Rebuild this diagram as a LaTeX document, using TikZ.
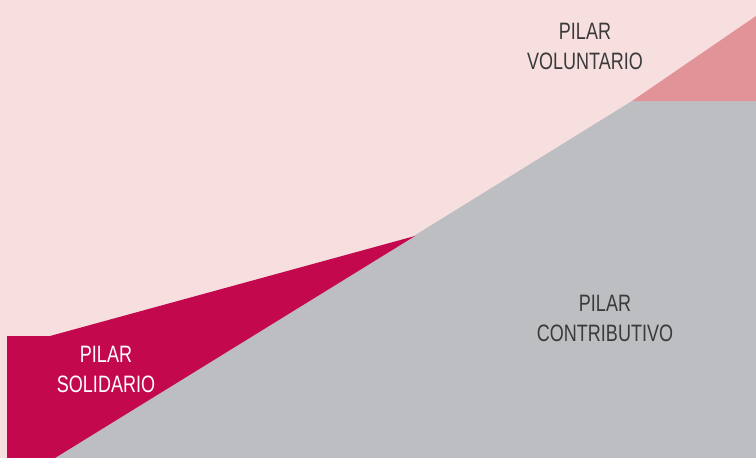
\documentclass[tikz,border=0pt]{standalone}
\usepackage{fontspec}
\setmainfont{Liberation Sans}[FakeStretch=0.76]
\definecolor{bgpink}{HTML}{F7DFE0}
\definecolor{solred}{HTML}{C4084D}
\definecolor{congray}{HTML}{BCBEC1}
\definecolor{volpink}{HTML}{E29397}
\definecolor{txtgray}{HTML}{3A3A3A}
\tikzset{
  lbl/.style={align=center, font=\fontsize{23.7}{30}\selectfont, inner sep=0pt},
}
\begin{document}
\begin{tikzpicture}[x=1pt,y=-1pt]
\fill[bgpink] (0,0) rectangle (756,458);
\useasboundingbox (0,0) rectangle (756,458);
% contributive
\fill[congray] (55,458) -- (632,101) -- (756,101) -- (756,458) -- cycle;
% voluntary
\fill[volpink] (632,101) -- (756,16) -- (756,101) -- cycle;
% solidarity
\fill[solred] (7,336) -- (50,336) -- (415,236) -- (55,458) -- (7,458) -- cycle;
\node[lbl, text=txtgray] (vol) at (585,46.5) {PILAR\\VOLUNTARIO};
\node[lbl, text=txtgray] (con) at (605,318.5) {PILAR\\CONTRIBUTIVO};
\node[lbl, text=white] (sol) at (106,369.5) {PILAR\\SOLIDARIO};
\end{tikzpicture}
\end{document}
